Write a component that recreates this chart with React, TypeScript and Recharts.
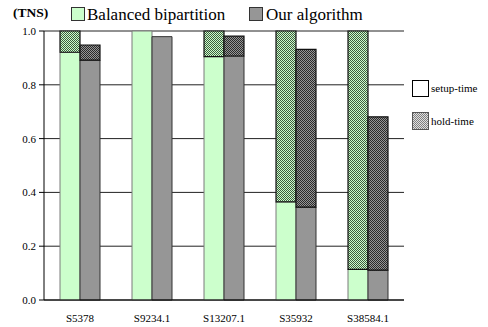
import React from 'react';
import { BarChart, Bar, XAxis, YAxis, CartesianGrid } from 'recharts';

const categories = ['S5378', 'S9234.1', 'S13207.1', 'S35932', 'S38584.1'];
const balancedSetup = [0.921, 1.0, 0.905, 0.365, 0.114];
const balancedTotal = [1.0, 1.0, 1.0, 1.0, 1.0];
const oursSetup = [0.892, 0.979, 0.907, 0.345, 0.111];
const oursTotal = [0.948, 0.979, 0.981, 0.932, 0.681];
const yTicks = [0, 0.2, 0.4, 0.6, 0.8, 1.0];
const edgeTicks = [0, 1, 2, 3, 4, 5];

const data = categories.map((name, i) => ({
  name,
  bbSetup: balancedSetup[i],
  bbHold: +(balancedTotal[i] - balancedSetup[i]).toFixed(3),
  oaSetup: oursSetup[i],
  oaHold: +(oursTotal[i] - oursSetup[i]).toFixed(3),
}));

const serif = "'Liberation Serif', 'Times New Roman', Times, Tinos, 'DejaVu Serif', 'Noto Serif', serif";

const Patterns = ({ prefix }: { prefix: string }) => (
  <defs>
    <pattern id={`${prefix}-green`} width="2" height="2" patternUnits="userSpaceOnUse">
      <rect width="2" height="2" fill="#ccffcc" />
      <rect width="1" height="1" fill="#3f5a3f" />
      <rect x="1" y="1" width="1" height="1" fill="#3f5a3f" />
    </pattern>
    <pattern id={`${prefix}-gray`} width="2" height="2" patternUnits="userSpaceOnUse">
      <rect width="2" height="2" fill="#969696" />
      <rect width="1" height="1" fill="#2a2a2a" />
      <rect x="1" y="1" width="1" height="1" fill="#2a2a2a" />
    </pattern>
    <pattern id={`${prefix}-light`} width="2" height="2" patternUnits="userSpaceOnUse">
      <rect width="2" height="2" fill="#e0e0e0" />
      <rect width="1" height="1" fill="#808080" />
      <rect x="1" y="1" width="1" height="1" fill="#808080" />
    </pattern>
  </defs>
);

export default function App() {
  return (
    <div style={{ position: 'absolute', left: 0, top: 0, width: 488, height: 327, background: '#fff', fontFamily: serif }}>
      <BarChart
        width={488}
        height={327}
        data={data}
        margin={{ top: 31, right: 84, left: 4, bottom: 0 }}
        barSize={20}
        barGap={0}
        style={{ fontFamily: serif }}
      >
        <Patterns prefix="c" />
        <CartesianGrid vertical={false} stroke="#222" />
        <XAxis
          xAxisId="edges"
          type="number"
          domain={[0, 5]}
          ticks={edgeTicks}
          allowDataOverflow
          height={0}
          axisLine={false}
          tick={false}
          tickSize={5}
          tickLine={{ stroke: '#000' }}
        />
        <XAxis
          dataKey="name"
          height={27}
          axisLine={{ stroke: '#000' }}
          tickLine={false}
          tickMargin={8}
          tick={{ fill: '#000', fontSize: 11, fontFamily: serif }}
        />
        <YAxis
          domain={[0, 1]}
          ticks={yTicks}
          width={40}
          tickFormatter={(v: number) => v.toFixed(1)}
          axisLine={{ stroke: '#000' }}
          tickLine={{ stroke: '#000' }}
          tickSize={5}
          tickMargin={3}
          tick={{ fill: '#000', fontSize: 11, fontFamily: serif }}
        />
        <YAxis
          yAxisId="right"
          orientation="right"
          domain={[0, 1]}
          width={0}
          tick={false}
          tickLine={false}
          axisLine={{ stroke: '#808080' }}
        />
        <Bar dataKey="bbSetup" stackId="bb" fill="#ccffcc" stroke="#7a7a7a" strokeWidth={1} isAnimationActive={false} />
        <Bar dataKey="bbHold" stackId="bb" fill="url(#c-green)" stroke="#111" strokeWidth={1.2} isAnimationActive={false} />
        <Bar dataKey="oaSetup" stackId="oa" fill="#969696" stroke="#333" strokeWidth={1} isAnimationActive={false} />
        <Bar dataKey="oaHold" stackId="oa" fill="url(#c-gray)" stroke="#111" strokeWidth={1.2} isAnimationActive={false} />
      </BarChart>
      <svg width={488} height={327} style={{ position: 'absolute', left: 0, top: 0, pointerEvents: 'none', fontFamily: serif }}>
        <Patterns prefix="l" />
        <text x={13} y={17} fontSize={13.5} fontWeight="bold" fill="#000">(TNS)</text>
        <rect x={71.5} y={7.5} width={13} height={13} fill="#ccffcc" stroke="#333" />
        <text x={87} y={20} fontSize={17} fill="#000">Balanced bipartition</text>
        <rect x={249.5} y={7.5} width={13} height={13} fill="#969696" stroke="#333" />
        <text x={266} y={20} fontSize={17} fill="#000">Our algorithm</text>
        <rect x={412.5} y={80.5} width={16} height={16} fill="#fff" stroke="#000" />
        <text x={431} y={92} fontSize={11} fill="#000">setup-time</text>
        <rect x={412.5} y={112.5} width={16} height={17} fill="url(#l-light)" stroke="#555" />
        <text x={431} y={125} fontSize={11} fill="#000">hold-time</text>
      </svg>
    </div>
  );
}
